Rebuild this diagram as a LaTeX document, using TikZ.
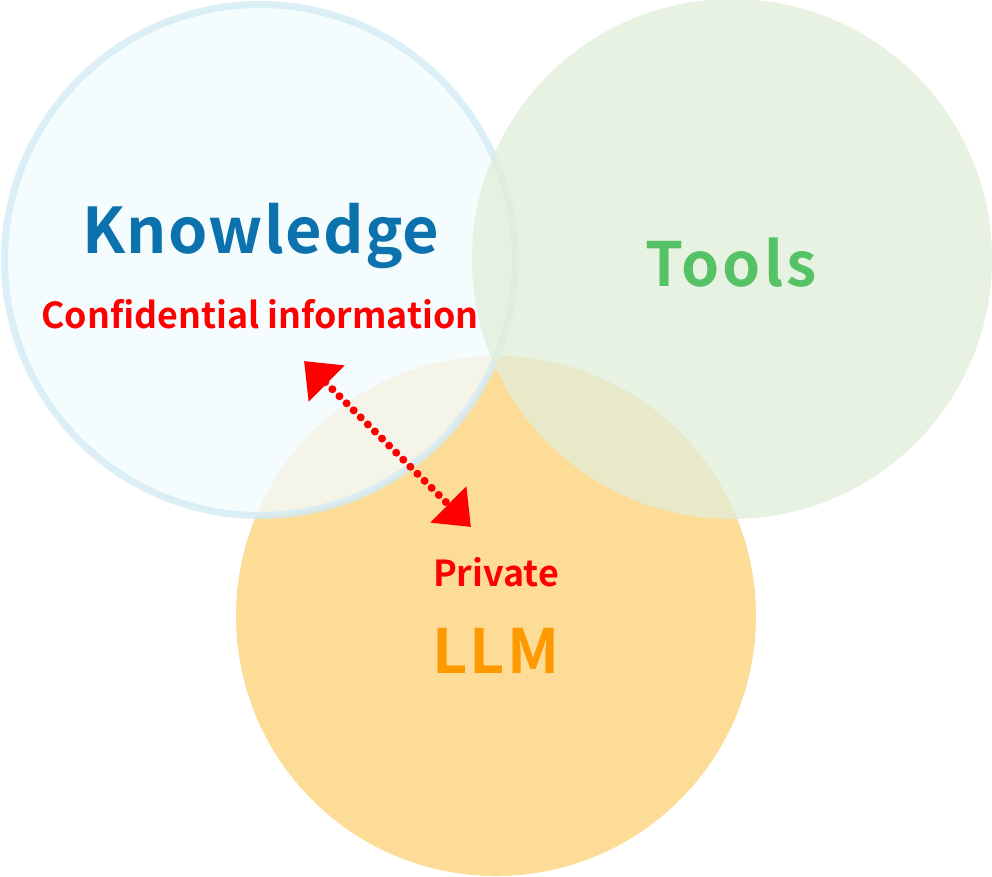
\documentclass[tikz,border=0pt]{standalone}
\usepackage{fontspec}
\usetikzlibrary{arrows.meta}
\newfontfamily\srcb{Noto Sans CJK JP Bold}
\definecolor{kfill}{RGB}{242,251,254}
\definecolor{kline}{RGB}{211,235,245}
\definecolor{tfill}{RGB}{225,238,217}
\definecolor{lfill}{RGB}{253,220,152}
\definecolor{kblue}{RGB}{11,114,173}
\definecolor{tgreen}{RGB}{85,194,102}
\definecolor{lorange}{RGB}{255,153,0}
\definecolor{rred}{RGB}{255,0,0}
\begin{document}
\begin{tikzpicture}[x=1pt,y=-1pt,
  setcircle/.style={circle,inner sep=0pt,outer sep=0pt},
  title/.style={anchor=base,inner sep=0pt,font=\srcb},
  note/.style={anchor=base,inner sep=0pt,text=rred,font=\srcb\fontsize{35.8}{40}\selectfont},
  dotarrow/.style={rred,line width=8pt,line cap=round,dash pattern=on 0pt off 10pt,
    {Triangle[length=32pt,width=49pt]}-{Triangle[length=32pt,width=49pt]}}]
\useasboundingbox (0,0) rectangle (992,876);
% circles
\node[setcircle,fill=lfill,minimum size=520pt] (llm) at (496,616) {};
\node[setcircle,fill=kfill,fill opacity=0.8,draw=kline,draw opacity=0.8,line width=7pt,minimum size=511pt] (know) at (260,260) {};
\node[setcircle,fill=tfill,fill opacity=0.77,minimum size=520pt] (tools) at (732,259) {};
% texts
\node[title,text=kblue,font=\srcb\fontsize{63}{68}\selectfont\addfontfeatures{LetterSpace=2}] (tk) at (261,253) {Knowledge};
\node[note] (tc) at (260,328) {Confidential information};
\node[title,text=tgreen,font=\srcb\fontsize{61}{66}\selectfont\addfontfeatures{LetterSpace=5}] (tt) at (731,286) {Tools};
\node[note] (tp) at (496,586) {Private};
\node[title,text=lorange,font=\srcb\fontsize{61}{66}\selectfont\addfontfeatures{LetterSpace=4}] (tl) at (496,673) {LLM};
% arrow
\coordinate (a1) at (304,361);
\coordinate (a2) at (471,527);
\draw[dotarrow] (a1) -- (a2);
\end{tikzpicture}
\end{document}
